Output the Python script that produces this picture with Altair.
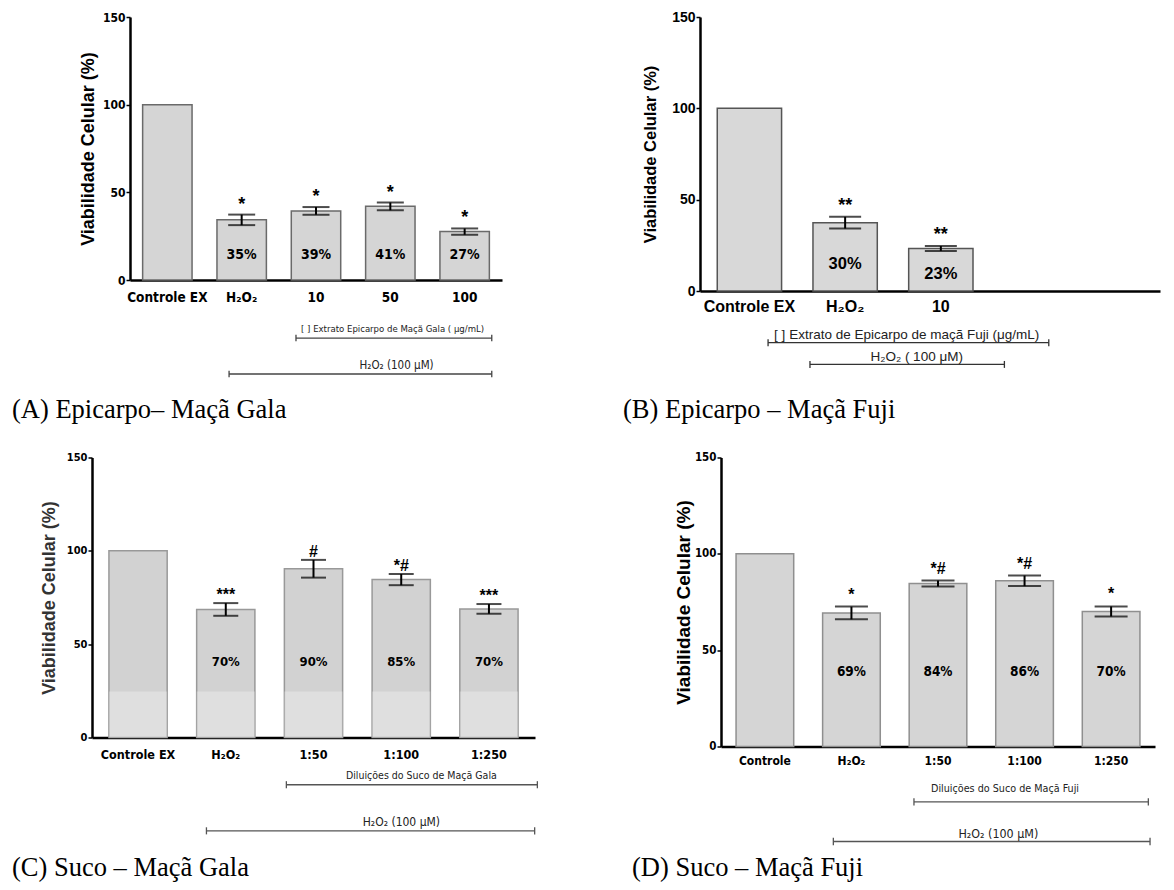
import altair as alt
import pandas as pd

NARROW = "Liberation Sans Narrow, DejaVu Sans Condensed, Arial Narrow, sans-serif"
ARIAL = "Liberation Sans, Arial, Helvetica, sans-serif"
SERIF = "Liberation Serif, Times New Roman, serif"
YTITLE = "Viabilidade Celular (%)"

# ---------------- data ----------------
a_cats = ["Controle EX", "H₂O₂", "10", "50", "100"]
a_vals = [100, 34.3, 39.4, 42.0, 27.6]
a_sem = [0, 3.0, 2.2, 2.2, 1.8]
a_pct = ["", "35%", "39%", "41%", "27%"]
a_sig = ["", "*", "*", "*", "*"]

b_cats = ["Controle EX", "H₂O₂", "10"]
b_vals = [100, 37.4, 23.3]
b_sem = [0, 3.2, 1.35]
b_pct = ["", "30%", "23%"]
b_sig = ["", "**", "**"]

c_cats = ["Controle EX", "H₂O₂", "1:50", "1:100", "1:250"]
c_vals = [100, 68.6, 90.4, 84.6, 68.9]
c_sem = [0, 3.4, 4.75, 3.0, 2.6]
c_pct = ["", "70%", "90%", "85%", "70%"]
c_sig = ["", "***", "#", "*#", "***"]

d_cats = ["Controle", "H₂O₂", "1:50", "1:100", "1:250"]
d_vals = [100, 69.3, 84.6, 86.0, 70.1]
d_sem = [0, 3.3, 1.55, 2.75, 2.6]
d_pct = ["", "69%", "84%", "86%", "70%"]
d_sig = ["", "*", "*#", "*#", "*"]


def make_panel(cats, vals, sems, pcts, sigs, cfg):
    df = pd.DataFrame({"cat": cats, "v": vals, "sem": sems, "pct": pcts, "sig": sigs})
    xs = alt.Scale(domain=cats + cfg.get("extra", []), paddingInner=cfg["pi"],
                   paddingOuter=cfg["po"], align=cfg.get("align", 0.5))
    ys = alt.Scale(domain=[0, 150], nice=False, zero=True)
    w, h = cfg["w"], cfg["h"]

    xaxis = alt.Axis(title=None, labelAngle=0, ticks=False, tickSize=0,
                     labelPadding=cfg["xlp"], labelBaseline="middle",
                     labelFont=cfg["xfont"], labelFontSize=cfg["xfs"],
                     labelFontWeight="bold", labelColor="black",
                     domainColor="black", domainWidth=2.5, labelLimit=300)
    yaxis = alt.Axis(values=[0, 50, 100, 150], title=YTITLE, titleFont=ARIAL,
                     titleFontSize=cfg["tfs"], titleFontWeight="bold",
                     titleColor=cfg.get("tcol", "black"), titleAngle=270,
                     titleAlign="center", titleBaseline="middle",
                     titleX=cfg["tx"], titleY=h / 2,
                     labelFont=cfg["yfont"], labelFontSize=cfg["yfs"],
                     labelFontWeight="bold", labelColor="black", labelPadding=1,
                     tickSize=4, tickWidth=1.5, tickColor="black",
                     domainColor="black", domainWidth=2.5, grid=False)

    def X(field, bp=None):
        kw = {}
        if bp is not None:
            kw["bandPosition"] = bp
        return alt.X(field, type="nominal", scale=xs, axis=xaxis, title=None, **kw)

    def Y(field):
        return alt.Y(field, type="quantitative", scale=ys, axis=yaxis, title=YTITLE)

    layers = []
    layers.append(
        alt.Chart(df).mark_bar(fill=cfg["fill"], stroke=cfg["stroke"], strokeWidth=1.5)
        .encode(x=X("cat"), y=Y("v"))
    )
    if cfg.get("overlay"):
        layers.append(
            alt.Chart(df).mark_bar(color="white", opacity=0.3)
            .encode(x=X("cat"), y=alt.YDatum(0, scale=ys, axis=yaxis, title=YTITLE),
                    y2=alt.Y2Datum(24.6))
        )

    err = (alt.Chart(df).transform_filter("datum.sem > 0")
           .transform_calculate(lo="datum.v - datum.sem", hi="datum.v + datum.sem"))
    layers.append(err.mark_rule(color="black", strokeWidth=2)
                  .encode(x=X("cat"), y=Y("lo"), y2="hi:Q"))
    layers.append(err.mark_tick(color="black", thickness=2, size=cfg["cap"])
                  .encode(x=X("cat"), y=Y("hi")))
    layers.append(err.mark_tick(color="black", thickness=2, size=cfg["cap"])
                  .encode(x=X("cat"), y=Y("lo")))
    layers.append(err.mark_text(font=ARIAL, fontSize=cfg["sfs"], fontWeight="bold",
                                baseline="alphabetic", dy=cfg["sdy"], color="black")
                  .encode(x=X("cat"), y=Y("hi"), text="sig:N"))
    layers.append(
        alt.Chart(df).transform_filter("datum.pct != ''")
        .transform_calculate(ly=cfg["ly"])
        .mark_text(font=cfg["pfont"], fontSize=cfg["pfs"], fontWeight="bold",
                   baseline="middle", color="black")
        .encode(x=X("cat"), y=Y("ly"), text="pct:N")
    )

    for br in cfg["br"]:
        bdf = pd.DataFrame({"s": [br["s"]], "e": [br["e"]], "t": [br["tc"]],
                            "y": [br["y"]], "ylo": [br["y"] - 1.9], "yhi": [br["y"] + 1.9],
                            "ty": [br["ty"]], "label": [br["text"]]})
        bc = alt.Chart(bdf)
        col = br.get("color", "#444444")
        so, eo = br.get("so", 0), br.get("eo", 0)
        layers.append(bc.mark_rule(color=col, strokeWidth=1.3, xOffset=so, x2Offset=eo)
                      .encode(x=X("s", br["bs"]), x2=alt.X2("e", bandPosition=br["be"]),
                              y=Y("y")))
        layers.append(bc.mark_rule(color=col, strokeWidth=1.3, xOffset=so)
                      .encode(x=X("s", br["bs"]), y=Y("ylo"), y2="yhi:Q"))
        layers.append(bc.mark_rule(color=col, strokeWidth=1.3, xOffset=eo)
                      .encode(x=X("e", br["be"]), y=Y("ylo"), y2="yhi:Q"))
        layers.append(bc.mark_text(font=br["font"], fontSize=br["fs"], color="#222222",
                                   baseline="middle", align="center", dx=br.get("tdx", 0))
                      .encode(x=X("t", br["bt"]), y=Y("ty"), text="label:N"))

    cap = pd.DataFrame({"c": [cfg["caption"]]})
    layers.append(alt.Chart(cap).mark_text(align="left", baseline="alphabetic", font=SERIF,
                                           fontSize=26.5, color="black")
                  .encode(x=alt.value(cfg["capx"]), y=alt.value(cfg["capy"]), text="c:N"))

    return alt.layer(*layers).properties(width=w, height=h)


def spacer(w):
    return (alt.Chart(pd.DataFrame({"z": [0]}))
            .mark_point(opacity=0, size=1)
            .encode(x=alt.value(0), y=alt.value(0))
            .properties(width=w, height=1))


cfgA = dict(w=372, h=263, pi=0.335, po=0.17, xlp=17, xfont=NARROW, xfs=13.5,
            yfont=NARROW, yfs=12, tfs=18, tx=-42, fill="#d5d5d5", stroke="#6a6a6a",
            cap=27, sfs=18, sdy=-5, ly="14.5", pfont=NARROW, pfs=14,
            caption="(A) Epicarpo– Maçã Gala", capx=-118, capy=401,
            br=[dict(s="10", bs=0.095, e="100", be=1, eo=2.4, y=-33.1, tc="50", bt=0.545,
                     ty=-28, text="[ ] Extrato Epicarpo de Maçã Gala ( μg/mL)",
                     font=NARROW, fs=9.5),
                dict(s="H₂O₂", bs=0.245, e="100", be=1, eo=2.4, y=-53.6, tc="50", bt=0.626,
                     ty=-49, text="H₂O₂ (100 μM)", font=NARROW, fs=11.5)])

cfgB = dict(w=460, h=274, pi=0.328, po=0.567, align=0.159, extra=[" "], xlp=15.7,
            xfont=ARIAL, xfs=16,
            yfont=ARIAL, yfs=14, tfs=16.5, tx=-50, fill="#d8d8d8", stroke="#555555",
            cap=32, sfs=18, sdy=-6, ly="datum.v * 0.4", pfont=ARIAL, pfs=16.5,
            caption="(B) Epicarpo – Maçã Fuji", capx=-77, capy=401,
            br=[dict(s="Controle EX", bs=0.79, e=" ", be=0.69, y=-28.3, tc="10", bt=0,
                     tdx=-2, ty=-23.9, text="[ ] Extrato de Epicarpo de maçã Fuji (μg/mL)",
                     font=ARIAL, fs=13.5, color="#333333"),
                dict(s="H₂O₂", bs=0, so=-3, e=" ", be=0, y=-40.2, tc="10", bt=0.124,
                     ty=-36, text="H₂O₂ ( 100 μM)", font=ARIAL, fs=13.5, color="#333333")])

cfgC = dict(w=443, h=280, pi=0.336, po=0.193, xlp=16.6, xfont=NARROW, xfs=12.5,
            yfont=NARROW, yfs=11, tfs=18, tx=-43, tcol="#333333", fill="#d2d2d2",
            stroke="#999999", overlay=True, cap=25, sfs=16, sdy=-3, ly="40.5",
            pfont=NARROW, pfs=13,
            caption="(C) Suco – Maçã Gala", capx=-80, capy=418.3,
            br=[dict(s="1:50", bs=0.034, e="1:250", be=1, eo=19.3, y=-25.3, tc="1:100",
                     bt=0.846, ty=-20.5, text="Diluições do Suco de Maçã Gala",
                     font=NARROW, fs=10.5, color="#555555"),
                dict(s="H₂O₂", bs=0.168, e="1:250", be=1, eo=16.6, y=-50, tc="1:100",
                     bt=0.503, ty=-45.5, text="H₂O₂ (100 μM)", font=NARROW, fs=12,
                     color="#555555")])

cfgD = dict(w=434, h=289, pi=0.334, po=0.174, xlp=14, xfont=NARROW, xfs=12,
            yfont=NARROW, yfs=11.5, tfs=19, tx=-38, fill="#d5d5d5", stroke="#8f8f8f",
            cap=33, sfs=16, sdy=-7, ly="38.5", pfont=NARROW, pfs=13.5,
            caption="(D) Suco – Maçã Fuji", capx=-89, capy=418.3,
            br=[dict(s="1:50", bs=0.083, e="1:250", be=1, eo=8.4, y=-28.7, tc="1:100",
                     bt=0.161, ty=-22.1, text="Diluições do Suco de Maçã Fuji",
                     font=NARROW, fs=10.7, color="#555555"),
                dict(s="H₂O₂", bs=0.186, e="1:250", be=1, eo=10.1, y=-49.3, tc="1:100",
                     bt=0.045, ty=-45.5, text="H₂O₂ (100 μM)", font=NARROW, fs=12.4,
                     color="#555555")])

pA = make_panel(a_cats, a_vals, a_sem, a_pct, a_sig, cfgA)
pB = make_panel(b_cats, b_vals, b_sem, b_pct, b_sig, cfgB)
pC = make_panel(c_cats, c_vals, c_sem, c_pct, c_sig, cfgC)
pD = make_panel(d_cats, d_vals, d_sem, d_pct, d_sig, cfgD)

row1 = alt.hconcat(spacer(38), pA, spacer(198), pB, spacing=0, bounds="flush")
row2 = alt.hconcat(pC, spacer(186), pD, spacing=0, bounds="flush")

chart = (
    alt.vconcat(row1, row2, spacing=27.5)
    .properties(padding={"left": 4, "top": 2, "right": 2, "bottom": 0}, background="white")
    .configure_view(stroke=None)
    .configure_axis(grid=False)
)

chart.save("out.html", embed_options={"renderer": "svg", "actions": False})
